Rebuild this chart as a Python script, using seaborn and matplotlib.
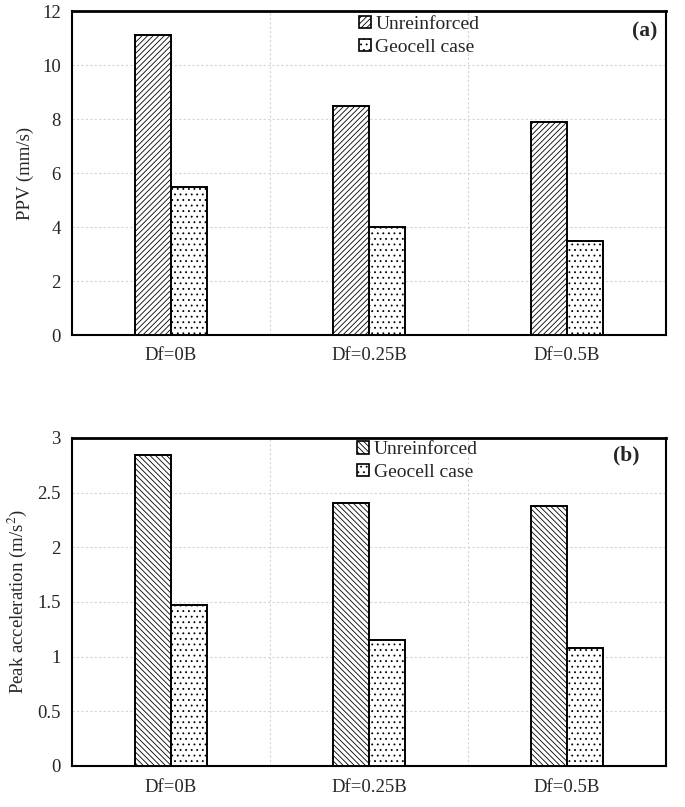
#!/usr/bin/env python
"""PPV and peak acceleration: unreinforced vs geocell, two stacked panels."""

import matplotlib
matplotlib.use('Agg')
import matplotlib.pyplot as plt
from matplotlib.patches import Patch
import seaborn as sns
import pandas as pd

sns.set_style('white')
plt.rcParams.update({
    'font.family': ['Liberation Serif', 'DejaVu Serif'],
    'mathtext.fontset': 'stix',
    'hatch.linewidth': 0.6,
    'hatch.color': 'black',
})

cases = ['Df=0B', 'Df=0.25B', 'Df=0.5B']
series = ['Unreinforced', 'Geocell case']

ppv_unreinforced = [11.1, 8.5, 7.9]
ppv_geocell = [5.5, 4.0, 3.5]

acc_unreinforced = [2.84, 2.41, 2.38]
acc_geocell = [1.47, 1.15, 1.08]


def long_df(unr, geo):
    rows = []
    for c, u, g in zip(cases, unr, geo):
        rows.append({'case': c, 'series': series[0], 'value': u})
        rows.append({'case': c, 'series': series[1], 'value': g})
    return pd.DataFrame(rows)


def draw_panel(ax, df, hatches, ylim, yticks, ylabel, tag, tag_xy, leg_xy):
    sns.barplot(data=df, x='case', y='value', hue='series', order=cases,
                hue_order=series, palette=['white', 'white'], width=0.36,
                edgecolor='black', linewidth=1.4, ax=ax, legend=False,
                zorder=3)
    for cont, h in zip(ax.containers, hatches):
        for bar in cont:
            bar.set_hatch(h)

    ax.set_xlim(-0.5, 2.5)
    ax.set_ylim(*ylim)
    ax.set_yticks(yticks)
    ax.set_yticklabels([f'{t:g}' for t in yticks])
    ax.set_xticks([-0.5, 0.5, 1.5, 2.5])
    ax.set_xticklabels([])
    ax.set_xticks([0, 1, 2], minor=True)
    ax.set_xticklabels(cases, minor=True)
    ax.tick_params(axis='x', which='minor', length=0, pad=9, labelsize=13.5)
    ax.tick_params(axis='x', which='major', direction='out', length=5,
                   width=1.4, color='black')
    ax.tick_params(axis='y', direction='out', length=5, width=1.4,
                   color='black', labelsize=13.5, pad=3)
    ax.set_xlabel('')
    ax.set_ylabel(ylabel, fontsize=13.5, labelpad=6)

    ax.grid(True, which='major', color='#d4d4d4', linestyle=(0, (2, 2)),
            linewidth=0.8)
    ax.set_axisbelow(True)
    for s in ax.spines.values():
        s.set_visible(True)
        s.set_color('black')
        s.set_linewidth(1.5)
    ax.spines['top'].set_linewidth(2.0)

    handles = [Patch(facecolor='white', edgecolor='black', hatch=h, linewidth=1.2)
               for h in hatches]
    ax.legend(handles, series, loc='upper left', bbox_to_anchor=leg_xy,
              frameon=False, fontsize=14, handlelength=0.6,
              handleheight=0.6, handletextpad=0.25, labelspacing=0.3,
              borderpad=0, borderaxespad=0)
    ax.text(tag_xy[0], tag_xy[1], tag, transform=ax.transAxes, ha='right',
            va='center', fontsize=15.5, fontweight='bold')


fig = plt.figure(figsize=(6.85, 8.07), dpi=100)
W, H = 685, 807
ax1 = fig.add_axes([72 / W, (H - 335) / H, 594 / W, 324 / H])
ax2 = fig.add_axes([72 / W, (H - 766) / H, 594 / W, 328 / H])

draw_panel(ax1, long_df(ppv_unreinforced, ppv_geocell), ['//////', '...'],
           (0, 12), [0, 2, 4, 6, 8, 10, 12], 'PPV (mm/s)', '(a)',
           (0.985, 0.938), (0.483, 0.985))
draw_panel(ax2, long_df(acc_unreinforced, acc_geocell), ['\\\\\\\\\\\\', '...'],
           (0, 3), [0, 0.5, 1, 1.5, 2, 2.5, 3], 'Peak acceleration (m/s$^2$)',
           '(b)', (0.955, 0.948), (0.48, 0.99))

fig.savefig('out.png', dpi=100, facecolor='white')
plt.close(fig)
